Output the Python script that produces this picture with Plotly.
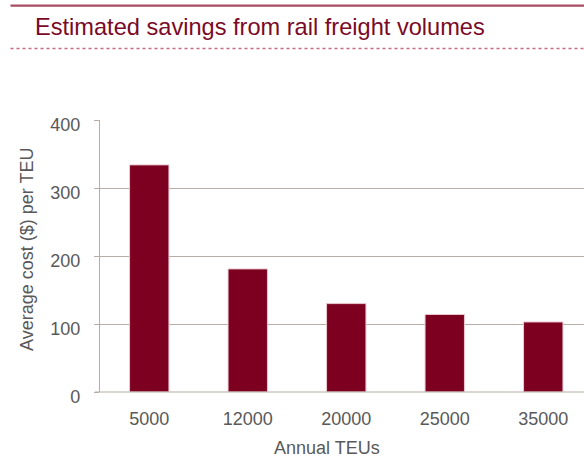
import plotly.graph_objects as go

categories = ["5000", "12000", "20000", "25000", "35000"]
avg_cost = [334, 181, 130, 114, 103]
y_ticks = [0, 100, 200, 300, 400]

title_text = "Estimated savings from rail freight volumes"
x_title = "Annual TEUs"
y_title = "Average cost ($) per TEU"

W, H = 584, 457
ML, MR, MT, MB = 100, 0, 120, 65
PW = W - ML - MR
PH = H - MT - MB

def px(x):
    return (x - ML) / PW

def py(y):
    return (H - MB - y) / PH

BAR = "#7e0021"
TEXT = "#595959"
GRID = "#b8ada6"

fig = go.Figure(
    go.Bar(
        x=list(range(len(categories))),
        y=avg_cost,
        marker=dict(color=BAR, line=dict(color="#e9c9cf", width=1)),
        hoverinfo="x+y",
    )
)

fig.update_layout(
    width=W,
    height=H,
    margin=dict(l=ML, r=MR, t=MT, b=MB, pad=0),
    paper_bgcolor="white",
    plot_bgcolor="white",
    bargap=0.6,
    showlegend=False,
    font=dict(family="Liberation Sans, Arial, sans-serif", size=18, color=TEXT),
    xaxis=dict(
        tickmode="array",
        tickvals=list(range(len(categories))),
        ticktext=categories,
        range=[-0.5, -0.5 + PW / 98.5],
        showgrid=False,
        zeroline=False,
        showline=False,
        ticks="",
        ticklabelstandoff=14,
        tickfont=dict(size=18, color=TEXT),
    ),
    yaxis=dict(
        range=[0, 400],
        tickvals=y_ticks,
        showgrid=True,
        gridcolor=GRID,
        gridwidth=1.2,
        zeroline=False,
        showline=True,
        linecolor=GRID,
        linewidth=1.2,
        ticks="outside",
        ticklen=5,
        tickcolor=GRID,
        tickwidth=1.2,
        ticklabelstandoff=10,
        ticklabelshift=5,
        tickfont=dict(size=18, color=TEXT),
    ),
    shapes=[
        dict(type="line", xref="paper", yref="paper",
             x0=px(10.5), x1=px(584), y0=py(5.7), y1=py(5.7),
             line=dict(color="#a94d61", width=2.2)),
        dict(type="line", xref="paper", yref="paper",
             x0=px(10.5), x1=px(584), y0=py(48.5), y1=py(48.5),
             line=dict(color="#c46c80", width=1.3, dash="dot")),
        dict(type="line", xref="paper", yref="paper",
             x0=px(95), x1=px(584), y0=py(392), y1=py(392),
             line=dict(color=GRID, width=1.2)),
    ],
    annotations=[
        dict(text=title_text, xref="paper", yref="paper",
             x=px(32.5), y=py(27), xanchor="left", yanchor="middle",
             showarrow=False,
             font=dict(size=23.6, color="#7a0a27",
                       family="Liberation Sans, Arial, sans-serif")),
        dict(text=y_title, xref="paper", yref="paper",
             x=px(27), y=py(250), xanchor="center", yanchor="middle",
             textangle=-90, showarrow=False,
             font=dict(size=18, color=TEXT)),
        dict(text=x_title, xref="paper", yref="paper",
             x=px(327), y=py(448), xanchor="center", yanchor="middle",
             showarrow=False,
             font=dict(size=18, color=TEXT)),
    ],
)

fig.write_html(
    "out.html",
    config={"displayModeBar": False},
    post_script="document.body.style.margin='0';document.body.style.overflow='hidden';",
)
